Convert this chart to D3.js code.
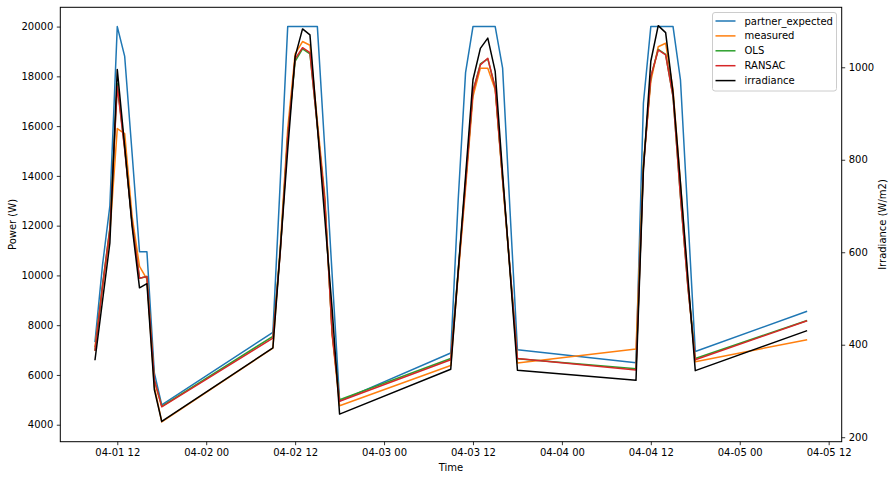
<!DOCTYPE html>
<html><head><meta charset="utf-8">
<script src="https://cdn.jsdelivr.net/npm/d3@7"></script>
<style>
body{margin:0;background:#fff}
svg{display:block}
text{font-family:"DejaVu Sans",sans-serif}
</style>
</head><body>
<svg id="c" width="894" height="480"></svg>
<script>
// ---- data ----
const times = [
  "2021-04-01 09:00","2021-04-01 10:00","2021-04-01 11:00","2021-04-01 12:00","2021-04-01 13:00",
  "2021-04-01 14:00","2021-04-01 15:00","2021-04-01 16:00","2021-04-01 17:00","2021-04-01 18:00",
  "2021-04-02 09:00","2021-04-02 10:00","2021-04-02 11:00","2021-04-02 12:00","2021-04-02 13:00",
  "2021-04-02 14:00","2021-04-02 15:00","2021-04-02 16:00","2021-04-02 17:00","2021-04-02 18:00",
  "2021-04-03 09:00","2021-04-03 10:00","2021-04-03 11:00","2021-04-03 12:00","2021-04-03 13:00",
  "2021-04-03 14:00","2021-04-03 15:00","2021-04-03 16:00","2021-04-03 17:00","2021-04-03 18:00",
  "2021-04-04 10:00","2021-04-04 11:00","2021-04-04 12:00","2021-04-04 13:00",
  "2021-04-04 14:00","2021-04-04 15:00","2021-04-04 16:00","2021-04-04 17:00","2021-04-04 18:00",
  "2021-04-05 09:00"
];
const partnerExpected = [
  7350,10400,12800,20000,18800,14900,10950,10950,6080,4800,
  7710,13800,20000,20000,20000,20000,20000,15100,10000,4950,
  6880,13000,18150,20000,20000,20000,20000,18330,12600,7010,
  6490,16920,20000,20000,20000,20000,17860,12400,6945,
  8550
];
const measured = [
  7150,9500,11700,15900,15700,12370,10360,9850,5540,4110,
  7080,11200,15900,18900,19400,19250,16200,13200,7600,4760,
  6380,10000,13500,17190,18330,18330,17460,13800,10200,6480,
  7040,14500,17800,19190,19330,17460,13700,9700,6530,
  7410
];
const ols = [
  7000,9600,11900,17700,15100,12100,9890,9960,5800,4740,
  7550,11000,15600,18600,19100,18900,16000,13000,7700,5000,
  6660,10160,13770,17400,18500,18700,17550,13870,10270,6650,
  6250,14400,17990,19080,18880,17190,13170,9560,6660,
  8180
];
const ransac = [
  7000,9550,11850,17600,15050,12100,9890,9960,5800,4720,
  7480,10950,15550,18700,19150,18950,16000,13000,7650,4940,
  6610,10100,13700,17390,18460,18730,17520,13870,10270,6660,
  6200,14300,17990,19060,18860,17190,13170,9560,6610,
  8170
];
const irradiance = [
  368,494,620,995,829,656,523,532,303,234,
  393,605,822,1023,1083,1070,872,674,476,250,
  347,558,765,973,1041,1063,991,770,558,345,
  323,778,1013,1090,1075,945,750,547,344,
  430
];
const leftTicks = [4000,6000,8000,10000,12000,14000,16000,18000,20000];
const rightTicks = [200,400,600,800,1000];
const seriesNames = ["partner_expected","measured","OLS","RANSAC","irradiance"];
const seriesColors = ["#1f77b4","#ff7f0e","#2ca02c","#d62728","#000000"];

// ---- layout ----
const svg = d3.select("#c");
const P = {l:60.3, r:841.7, t:7.3, b:441.7};
const parse = d3.utcParse("%Y-%m-%d %H:%M");
const dates = times.map(parse);
const ref = parse("2021-04-01 12:00");
const H = 3600e3;
const x = d3.scaleUtc()
  .domain([new Date(+ref - 7.69*H), new Date(+ref + 97.76*H)])
  .range([P.l, P.r]);
const yL = d3.scaleLinear().domain([3317, 20775]).range([P.b, P.t]);
const yR = d3.scaleLinear().domain([190.3, 1129.7]).range([P.b, P.t]);

const leftSeries = [partnerExpected, measured, ols, ransac];
leftSeries.forEach((s,k)=>{
  const line = d3.line().x((d,i)=>x(dates[i])).y(d=>yL(d));
  svg.append("path").datum(s).attr("d",line)
    .attr("fill","none").attr("stroke",seriesColors[k]).attr("stroke-width",1.5)
    .attr("stroke-linejoin","round").attr("stroke-linecap","square");
});
const lineR = d3.line().x((d,i)=>x(dates[i])).y(d=>yR(d));
svg.append("path").datum(irradiance).attr("d",lineR)
  .attr("fill","none").attr("stroke",seriesColors[4]).attr("stroke-width",1.5)
  .attr("stroke-linejoin","round").attr("stroke-linecap","square");

// spines
svg.append("rect").attr("x",P.l).attr("y",P.t).attr("width",P.r-P.l).attr("height",P.b-P.t)
  .attr("fill","none").attr("stroke","#000").attr("stroke-width",1);

function styleAxis(g){
  g.select(".domain").remove();
  g.selectAll(".tick line").attr("stroke","#000").attr("stroke-width",0.8);
  g.selectAll(".tick text").attr("fill","#000").attr("font-size",10)
    .attr("font-family","DejaVu Sans, sans-serif");
}
svg.append("g").attr("transform",`translate(${P.l},0)`)
  .call(d3.axisLeft(yL).tickValues(leftTicks).tickSize(3.5).tickPadding(3.5).tickFormat(d3.format("d")))
  .call(styleAxis);
svg.append("g").attr("transform",`translate(${P.r},0)`)
  .call(d3.axisRight(yR).tickValues(rightTicks).tickSize(3.5).tickPadding(3.5).tickFormat(d3.format("d")))
  .call(styleAxis);
svg.append("g").attr("transform",`translate(0,${P.b})`)
  .call(d3.axisBottom(x).ticks(d3.utcHour.every(12)).tickSize(3.5).tickPadding(3.5)
    .tickFormat(d3.utcFormat("%m-%d %H")))
  .call(styleAxis);

// axis titles
svg.append("text").attr("x",(P.l+P.r)/2).attr("y",471).attr("text-anchor","middle")
  .attr("font-size",10).text("Time");
svg.append("text").attr("transform",`translate(15.5,${(P.t+P.b)/2}) rotate(-90)`)
  .attr("text-anchor","middle").attr("font-size",10).text("Power (W)");
svg.append("text").attr("transform",`translate(885.5,${(P.t+P.b)/2}) rotate(-90)`)
  .attr("text-anchor","middle").attr("font-size",10).text("Irradiance (W/m2)");

// legend
const lg = svg.append("g");
lg.append("rect").attr("x",712.5).attr("y",12.5).attr("width",124).attr("height",78.5)
  .attr("rx",2.5).attr("fill","#fff").attr("fill-opacity",0.8)
  .attr("stroke","#cccccc").attr("stroke-width",1);
seriesNames.forEach((n,i)=>{
  const yy = 21 + i*14.9;
  lg.append("line").attr("x1",715.5).attr("x2",735.5).attr("y1",yy).attr("y2",yy)
    .attr("stroke",seriesColors[i]).attr("stroke-width",1.5);
  lg.append("text").attr("x",744.5).attr("y",yy).attr("dy","0.35em")
    .attr("font-size",10).text(n);
});
</script>
</body></html>
